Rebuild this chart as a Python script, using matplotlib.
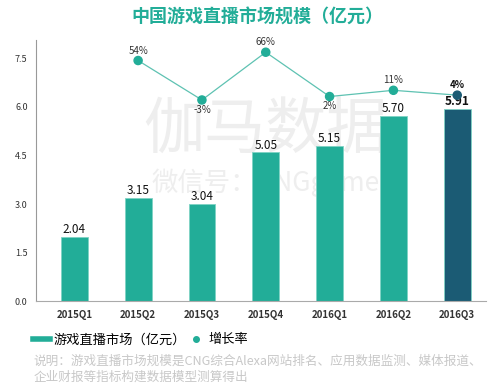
import matplotlib
matplotlib.use("Agg")
import matplotlib.pyplot as plt
from matplotlib.lines import Line2D

plt.rcParams['font.family'] = ['Noto Sans CJK SC', 'DejaVu Sans']

quarters = ["2015Q1", "2015Q2", "2015Q3", "2015Q4", "2016Q1", "2016Q2", "2016Q3"]
# bar heights as drawn in the picture, and the printed labels
market = [2.0, 3.19, 3.01, 4.59, 4.78, 5.70, 5.92]
market_labels = ["2.04", "3.15", "3.04", "5.05", "5.15", "5.70", "5.91"]
growth_x = [1, 2, 3, 4, 5, 6]
growth = [54, -3, 66, 2, 11, 4]
growth_labels = ["54%", "-3%", "66%", "2%", "11%", "4%"]
growth_below = [False, True, False, True, False, False]
yticks = [0.0, 1.5, 3.0, 4.5, 6.0, 7.5]

teal = "#22ad98"
dark = "#1b5b74"
line_c = "#5ec2b2"

fig = plt.figure(figsize=(4.95, 3.9), dpi=100)
ax = fig.add_axes([0.0727, 0.227, 0.909, 0.670])

# watermark
ax.text(0.51, 0.655, "伽马数据", transform=ax.transAxes, ha="center", va="center",
        fontsize=44, color="#eeeeee", zorder=0)
ax.text(0.51, 0.455, "微信号：CNGgame", transform=ax.transAxes, ha="center", va="center",
        fontsize=19, color="#eeeeee", zorder=0)

colors = [teal] * (len(quarters) - 1) + [dark]
x = range(len(quarters))
ax.bar(x, market, width=0.42, color=colors, edgecolor="#7fd3c5", linewidth=0.6, zorder=2)
for i, (h, lab) in enumerate(zip(market, market_labels)):
    last = i == len(quarters) - 1
    ax.text(i, h + 0.03, lab, ha="center", va="bottom", fontsize=8.5,
            color="#111111", fontweight="bold" if last else "normal", zorder=3)

ax.set_xlim(-0.6, 6.45)
ax.set_ylim(0, 8.05)
ax.set_yticks(yticks)
ax.set_yticklabels(["%.1f" % v for v in yticks], fontsize=6.5, color="#333333")
ax.set_xticks(list(x))
ax.set_xticklabels(quarters, fontsize=7, color="#333333", fontweight="bold")
ax.tick_params(length=0, pad=6)
for s in ["top", "right"]:
    ax.spines[s].set_visible(False)
ax.spines["left"].set_color("#999999")
ax.spines["bottom"].set_color("#aaaaaa")
ax.spines["left"].set_linewidth(0.8)
ax.spines["bottom"].set_linewidth(0.8)

ax2 = ax.twinx()
ax2.set_ylim(-294, 83.4)
ax2.axis("off")
ax2.plot(growth_x, growth, color=line_c, linewidth=0.9, zorder=4)
pcol = [teal] * (len(growth) - 1) + [dark]
ax2.scatter(growth_x, growth, s=34, color=pcol, zorder=5)
for gx, g, lab, below in zip(growth_x, growth, growth_labels, growth_below):
    last = gx == growth_x[-1]
    ax2.text(gx, g + (-7 if below else 7), lab, ha="center",
             va="top" if below else "bottom", fontsize=7,
             color="#111111" if last else "#333333",
             fontweight="bold" if last else "normal")

fig.text(0.52, 0.955, "中国游戏直播市场规模（亿元）", ha="center", va="center",
         fontsize=13, color=teal, fontweight="bold")

handles = [Line2D([0], [0], color=teal, linewidth=4),
           Line2D([0], [0], color=teal, marker="o", linestyle="none", markersize=4)]
fig.legend(handles, ["游戏直播市场（亿元）", "增长率"], loc="center left",
           bbox_to_anchor=(0.055, 1 - 340 / 390), frameon=False, ncol=2,
           fontsize=9.5, handlelength=1.3, handletextpad=0.3, columnspacing=0.1,
           borderaxespad=0)

fig.text(0.068, 1 - 361 / 390, "说明：游戏直播市场规模是CNG综合Alexa网站排名、应用数据监测、媒体报道、",
         ha="left", va="center", fontsize=9.1, color="#c8c8c8")
fig.text(0.068, 1 - 377 / 390, "企业财报等指标构建数据模型测算得出",
         ha="left", va="center", fontsize=9.1, color="#c8c8c8")

fig.savefig("out.png", dpi=100)
